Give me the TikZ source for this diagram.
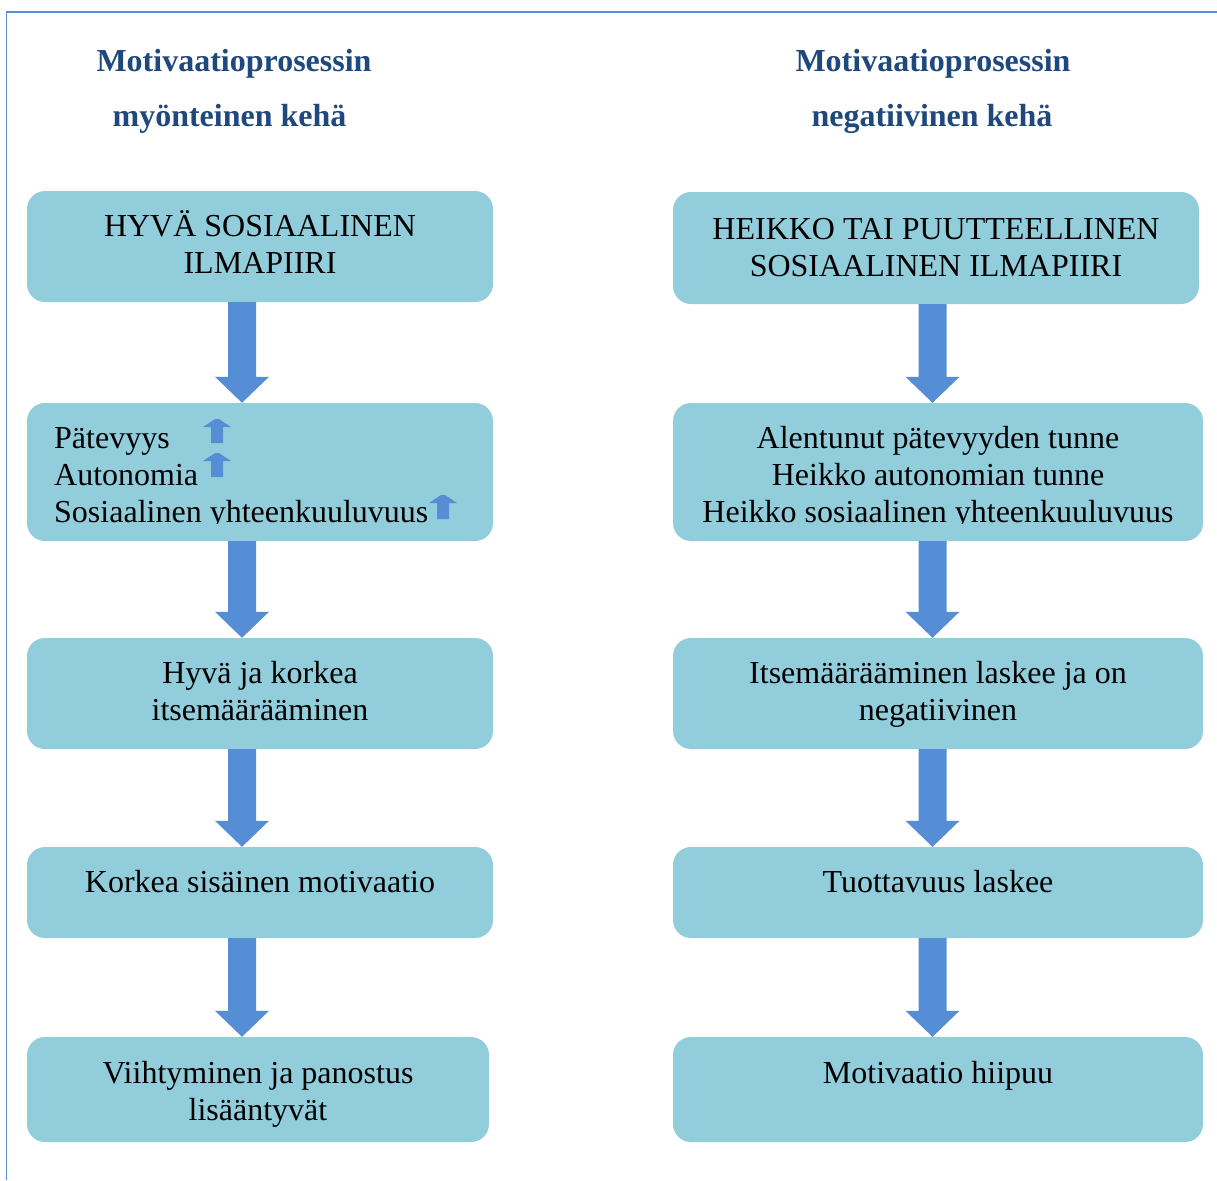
\documentclass[tikz,border=0pt]{standalone}
\usepackage{fontspec}
\setmainfont{Liberation Serif}
\usetikzlibrary{calc}
\definecolor{boxc}{HTML}{92CDDC}
\definecolor{arrc}{HTML}{558ED5}
\definecolor{headc}{HTML}{1F497D}
\definecolor{framec}{HTML}{5B8ED8}
\newcommand\firstln{\rule{0pt}{30pt}}
% block arrow from node #1 to node #2 along x of coordinate #3
\newcommand\blockarr[3]{%
  \fill[arrc] ($(#1.south -| #3)+(-14,0)$) -- ($(#2.north -| #3)+(-14,-26)$)
    -- ($(#2.north -| #3)+(-27,-26)$) -- (#2.north -| #3)
    -- ($(#2.north -| #3)+(27,-26)$) -- ($(#2.north -| #3)+(14,-26)$)
    -- ($(#1.south -| #3)+(14,0)$) -- cycle;}
% small up arrow: #1 = x centre, #2 = y top
\newcommand\smallup[2]{%
  \fill[arrc] (#1-14,#2+8) -- (#1-2,#2) -- (#1+2,#2) -- (#1+14,#2+8)
    -- (#1+6,#2+8) -- (#1+6,#2+24) -- (#1-6,#2+24) -- (#1-6,#2+8) -- cycle;}
\begin{document}
\begin{tikzpicture}[x=1pt,y=-1pt,
  box/.style={fill=boxc, draw=none, rounded corners=18pt, inner sep=0pt},
  txt/.style={inner sep=0pt, font=\fontsize{32}{37}\selectfont, text=black},
  head/.style={inner sep=0pt, anchor=base, font=\fontsize{32}{37}\selectfont\bfseries, text=headc}]
\useasboundingbox (0,0) rectangle (1217,1180);
\fill[white] (0,0) rectangle (1217,1180);
% frame
\draw[framec, line width=1.6pt] (1217,12) -- (6.5,12) -- (6.5,1180);
% headings
\node[head] (hLa) at (234,72) {Motivaatioprosessin};
\node[head] (hLb) at (229.5,127) {myönteinen kehä};
\node[head] (hRa) at (933,72) {Motivaatioprosessin};
\node[head] (hRb) at (932,127) {negatiivinen kehä};
% boxes left
\node[box, minimum width=466pt, minimum height=111pt] (L1) at (260,246.5) {};
\node[box, minimum width=466pt, minimum height=138pt] (L2) at (260,472) {};
\node[box, minimum width=466pt, minimum height=111pt] (L3) at (260,693.5) {};
\node[box, minimum width=466pt, minimum height=91pt] (L4) at (260,892.5) {};
\node[box, minimum width=462pt, minimum height=105pt] (L5) at (258,1089.5) {};
% boxes right
\node[box, minimum width=526pt, minimum height=112pt] (R1) at (936,248) {};
\node[box, minimum width=530pt, minimum height=138pt] (R2) at (938,472) {};
\node[box, minimum width=530pt, minimum height=111pt] (R3) at (938,693.5) {};
\node[box, minimum width=530pt, minimum height=91pt] (R4) at (938,892.5) {};
\node[box, minimum width=530pt, minimum height=105pt] (R5) at (938,1089.5) {};
% arrow axes
\coordinate (aL) at (242,0);
\coordinate (aR) at (932.5,0);
\blockarr{L1}{L2}{aL}
\blockarr{L2}{L3}{aL}
\blockarr{L3}{L4}{aL}
\blockarr{L4}{L5}{aL}
\blockarr{R1}{R2}{aR}
\blockarr{R2}{R3}{aR}
\blockarr{R3}{R4}{aR}
\blockarr{R4}{R5}{aR}
% texts
\node[txt, anchor=north, align=center] (tL1) at (260,206) {\firstln HYVÄ SOSIAALINEN\\ILMAPIIRI};
\node[txt, anchor=north, align=center] (tR1) at (936,209) {\firstln HEIKKO TAI PUUTTEELLINEN\\SOSIAALINEN ILMAPIIRI};
\begin{scope}
\clip (0,0) rectangle (1217,523);
\node[txt, anchor=north west, align=left] (tL2) at (54,418) {\firstln Pätevyys\\Autonomia\\Sosiaalinen yhteenkuuluvuus};
\node[txt, anchor=north, align=center] (tR2) at (938,418) {\firstln Alentunut pätevyyden tunne\\Heikko autonomian tunne\\Heikko sosiaalinen yhteenkuuluvuus};
\end{scope}
\smallup{217}{419}
\smallup{217}{453}
\smallup{443}{495}
\node[txt, anchor=north, align=center] (tL3) at (260,653) {\firstln Hyvä ja korkea\\itsemäärääminen};
\node[txt, anchor=north, align=center] (tR3) at (938,653) {\firstln Itsemäärääminen laskee ja on\\negatiivinen};
\node[txt, anchor=base] (tL4) at (260,892) {Korkea sisäinen motivaatio};
\node[txt, anchor=base] (tR4) at (938,892) {Tuottavuus laskee};
\node[txt, anchor=north, align=center] (tL5) at (258,1053) {\firstln Viihtyminen ja panostus\\lisääntyvät};
\node[txt, anchor=base] (tR5) at (938,1083) {Motivaatio hiipuu};
\end{tikzpicture}
\end{document}
